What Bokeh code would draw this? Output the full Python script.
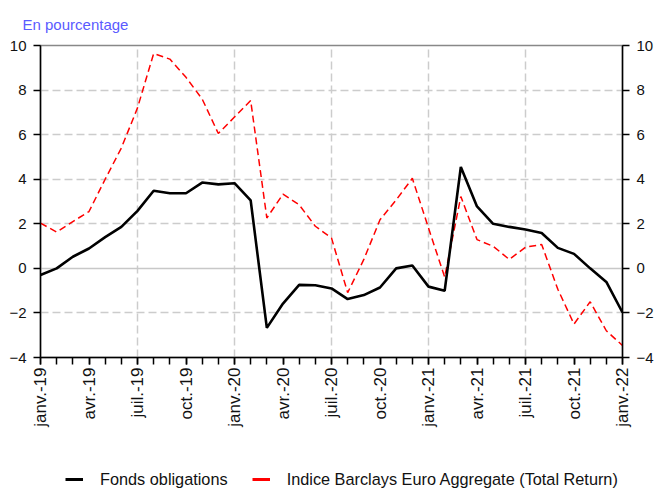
import math
from bokeh.plotting import figure
from bokeh.layouts import column
from bokeh.models import (Range1d, FixedTicker, LinearAxis, Grid, Legend, LegendItem,
                          Title, ColumnDataSource)
from bokeh.embed import file_html
from bokeh.resources import INLINE

# ---- data ----
months = list(range(37))  # janv.-19 ... janv.-22 (monthly)
fonds = [-0.3, 0.0, 0.52, 0.89, 1.4, 1.86, 2.58, 3.48, 3.37, 3.37, 3.85, 3.77, 3.82,
         3.05, -2.67, -1.58, -0.74, -0.76, -0.9, -1.38, -1.2, -0.86, 0.0, 0.13, -0.82,
         -1.01, 4.55, 2.78, 2.0, 1.86, 1.74, 1.59, 0.92, 0.65, 0.0, -0.61, -1.98]
indice = [2.03, 1.63, 2.1, 2.55, 4.0, 5.4, 7.2, 9.64, 9.39, 8.57, 7.6, 6.05, 6.79,
          7.53, 2.26, 3.33, 2.85, 1.89, 1.36, -1.09, 0.4, 2.18, 3.07, 4.04, 1.81,
          -0.39, 3.22, 1.29, 0.99, 0.4, 0.95, 1.07, -0.94, -2.5, -1.5, -2.8, -3.46]
x_tick_pos = [0, 3, 6, 9, 12, 15, 18, 21, 24, 27, 30, 33, 36]
x_tick_labels = ["janv.-19", "avr.-19", "juil.-19", "oct.-19", "janv.-20", "avr.-20",
                 "juil.-20", "oct.-20", "janv.-21", "avr.-21", "juil.-21", "oct.-21",
                 "janv.-22"]
x_grid_pos = [6, 12, 18, 24, 30]
y_ticks = [-4, -2, 0, 2, 4, 6, 8, 10]
y_grid_dashed = [-2, 2, 4, 6, 8]
series_names = ["Fonds obligations", "Indice Barclays Euro Aggregate (Total Return)"]

FONT = "Liberation Sans"

p = figure(width=656, height=462, output_backend="svg", toolbar_location=None,
           x_range=Range1d(0, 36), y_range=Range1d(-4, 10),
           min_border_left=40, min_border_right=33, min_border_top=43,
           min_border_bottom=105, y_axis_location=None, x_axis_location=None)
p.background_fill_color = "white"
p.border_fill_color = "white"
p.outline_line_color = "#888888"
p.outline_line_width = 1.5

# title
t = Title(text="En pourcentage", text_color="#5a5aff", text_font_size="15px",
          text_font_style="normal", text_font=FONT, align="left", offset=-18,
          standoff=26)
p.add_layout(t, "above")

# grids
p.xgrid.visible = False
p.ygrid.visible = False
gx = Grid(dimension=0, ticker=FixedTicker(ticks=x_grid_pos), grid_line_color="#cccccc",
          grid_line_dash="8 4", grid_line_width=1.5)
gy = Grid(dimension=1, ticker=FixedTicker(ticks=y_grid_dashed), grid_line_color="#cccccc",
          grid_line_dash="8 4", grid_line_width=1.5)
gy0 = Grid(dimension=1, ticker=FixedTicker(ticks=[0]), grid_line_color="#c8c8c8",
           grid_line_width=1.5)
p.add_layout(gx)
p.add_layout(gy)
p.add_layout(gy0)

# axes
def style_axis(ax):
    ax.major_label_text_font = FONT
    ax.major_label_text_font_size = "15px"
    ax.major_label_text_color = "#111111"
    ax.axis_line_color = "black"
    ax.axis_line_width = 1.5
    ax.major_tick_line_color = "black"
    ax.major_tick_line_width = 1.5
    ax.minor_tick_line_color = "black"
    ax.minor_tick_line_width = 1.5
    ax.major_tick_in = 0
    ax.major_tick_out = 7
    ax.minor_tick_in = 0
    ax.minor_tick_out = 7
    ax.major_label_standoff = 7

xax = LinearAxis(ticker=FixedTicker(ticks=x_tick_pos, minor_ticks=months))
style_axis(xax)
xax.major_label_overrides = {pos: lab for pos, lab in zip(x_tick_pos, x_tick_labels)}
xax.major_label_orientation = math.pi / 2
xax.major_label_text_font_size = "17px"
xax.major_label_standoff = 3
p.add_layout(xax, "below")

for side in ("left", "right"):
    ya = LinearAxis(ticker=FixedTicker(ticks=y_ticks, minor_ticks=[]))
    style_axis(ya)
    p.add_layout(ya, side)

src = ColumnDataSource(dict(x=months, fonds=fonds, indice=indice))
p.line("x", "indice", source=src, line_color="red", line_width=1.5, line_dash="7 4")
p.line("x", "fonds", source=src, line_color="black", line_width=2.6)

# legend strip (solid swatches), in its own borderless figure
pl = figure(width=656, height=29, output_backend="svg", toolbar_location=None,
            x_range=Range1d(0, 1), y_range=Range1d(0, 1),
            min_border=0, x_axis_location=None, y_axis_location=None)
pl.xgrid.visible = False
pl.ygrid.visible = False
pl.outline_line_color = None
pl.border_fill_color = "white"
nan = float("nan")
l1 = pl.line([nan], [nan], line_color="black", line_width=3, line_dash="solid")
l2 = pl.line([nan], [nan], line_color="red", line_width=3, line_dash="solid")
legend = Legend(items=[LegendItem(label=series_names[0], renderers=[l1]),
                       LegendItem(label=series_names[1], renderers=[l2])],
                orientation="horizontal", location=(23, 0),
                border_line_alpha=0, background_fill_alpha=0,
                label_text_font=FONT, label_text_font_size="16.3px",
                label_text_color="#111111",
                glyph_width=18, label_standoff=17, spacing=24, margin=0, padding=2)
pl.add_layout(legend, "center")

layout = column(p, pl, spacing=0)
open("out.html", "w").write(file_html(layout, INLINE))
